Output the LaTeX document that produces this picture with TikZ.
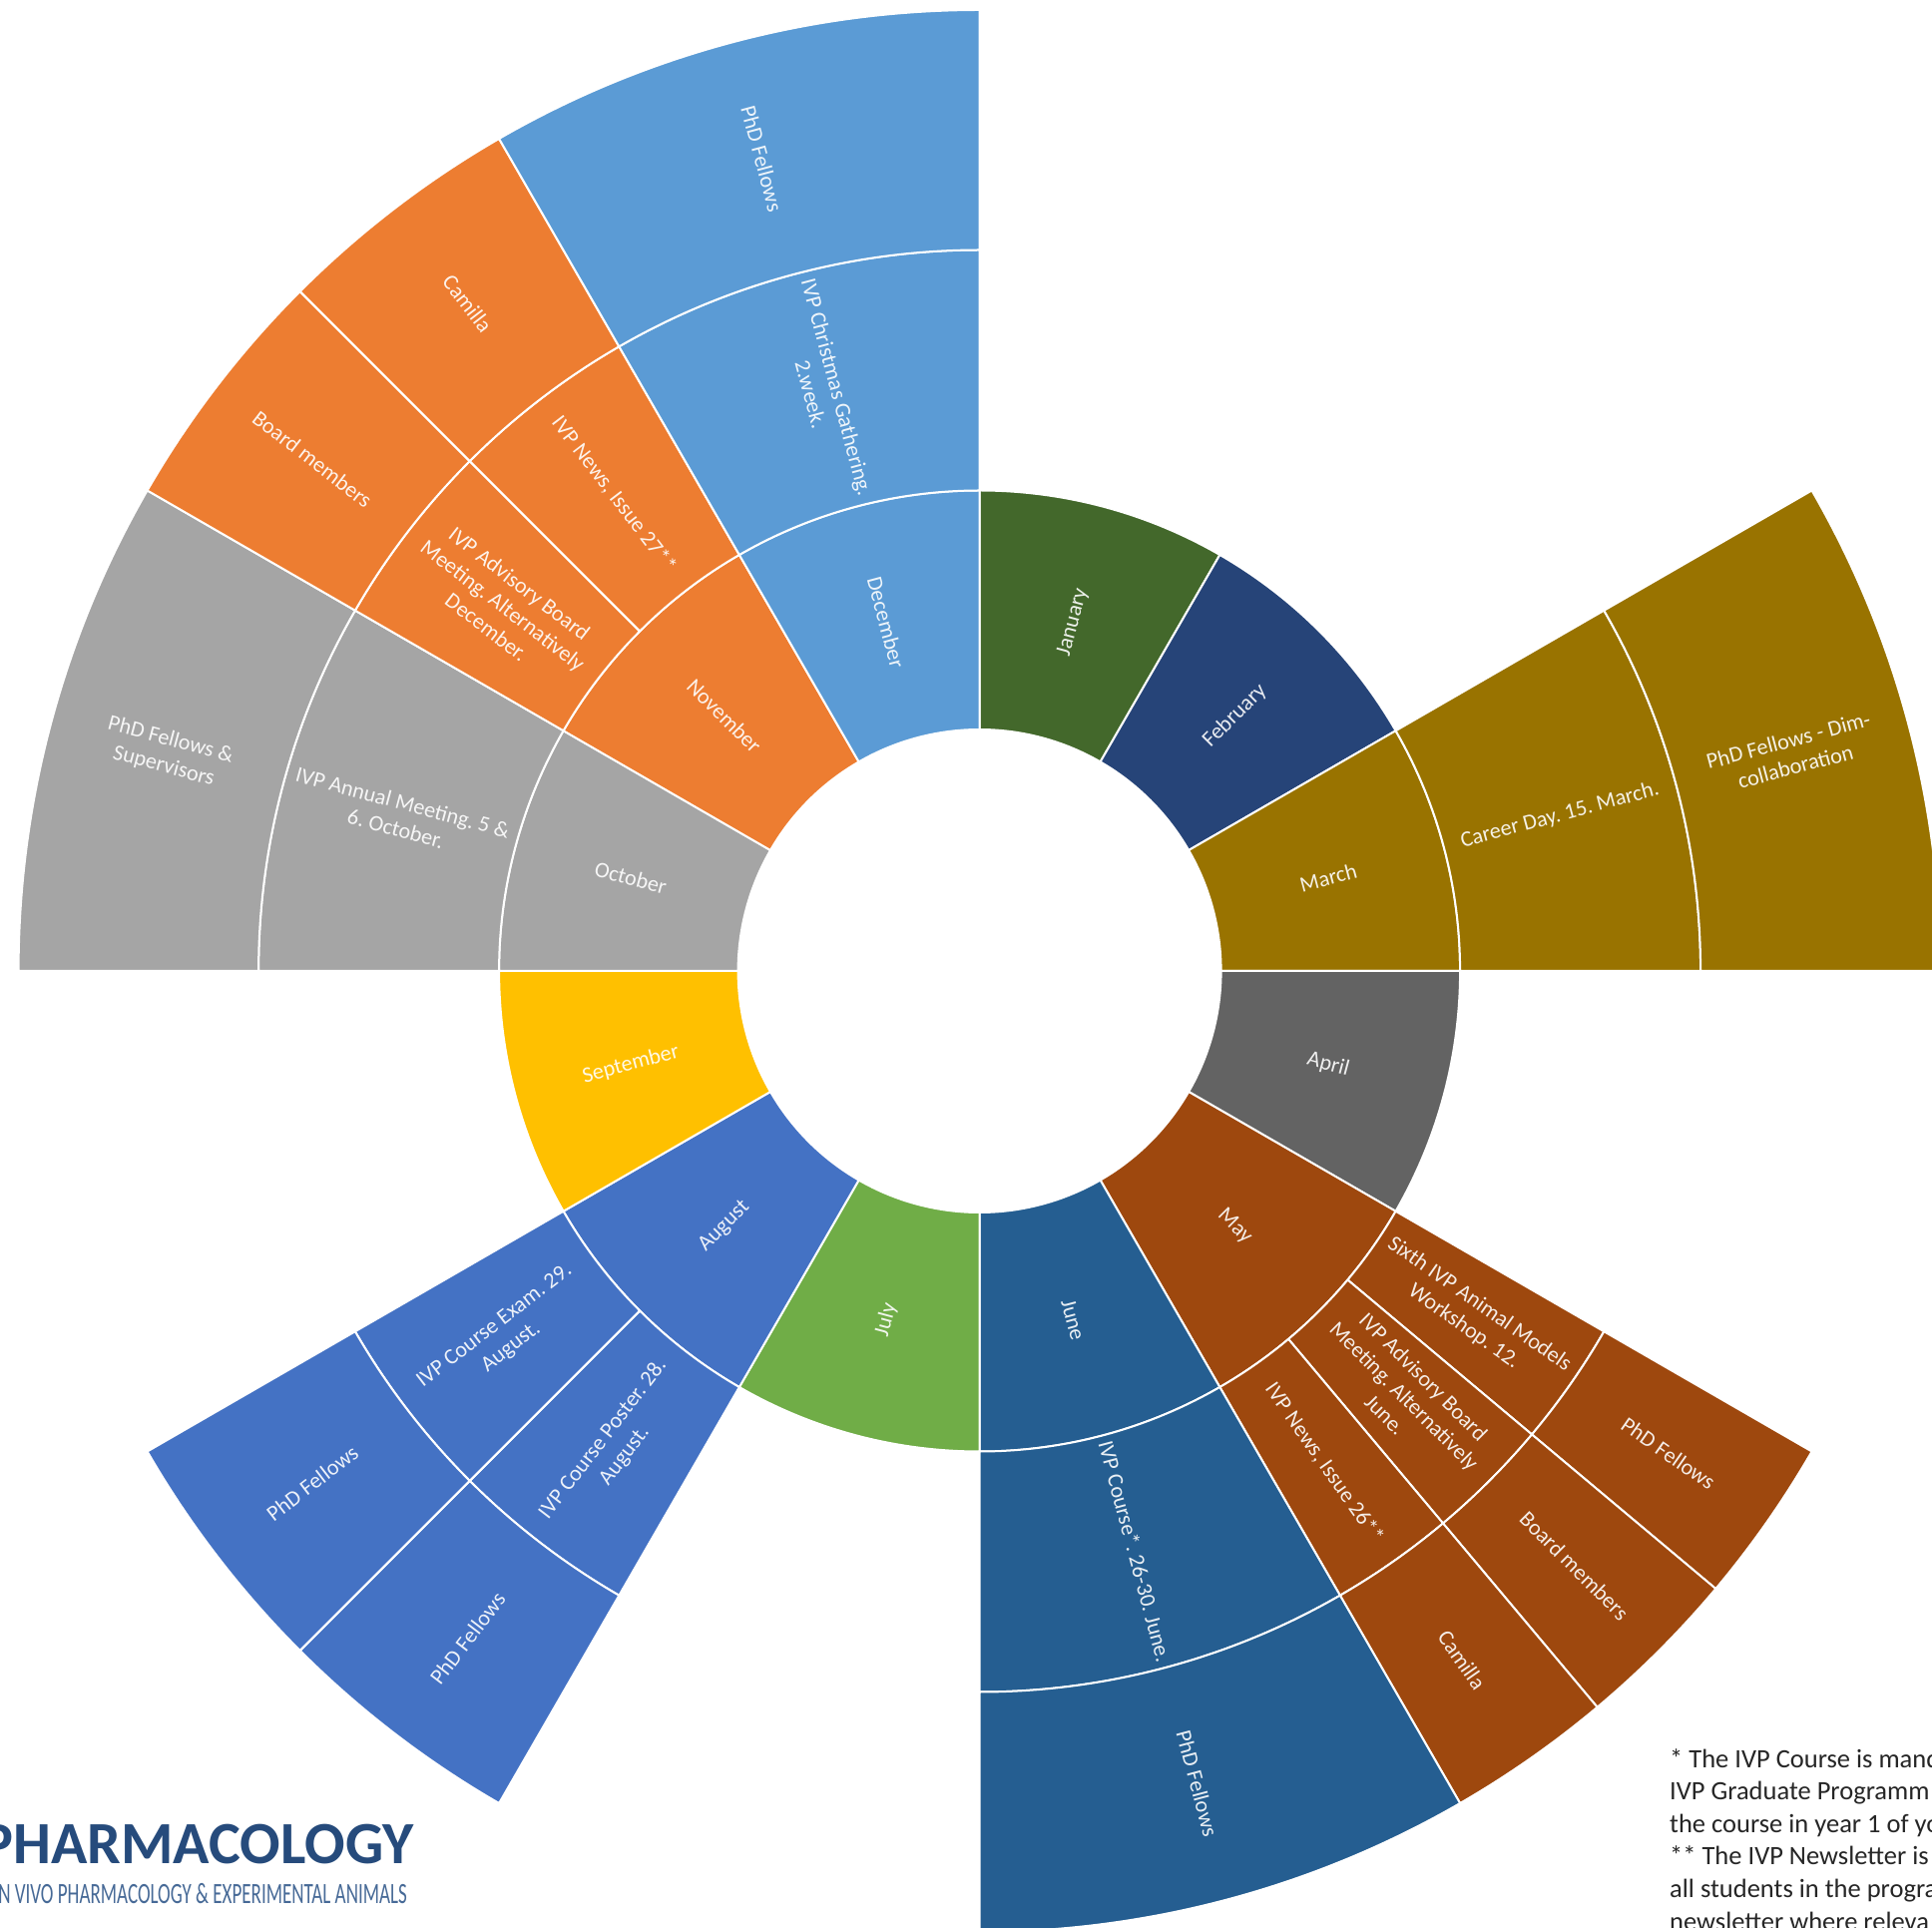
\documentclass[tikz,border=0pt]{standalone}
\usepackage{fontspec}
\setmainfont{Carlito}
\frenchspacing
\definecolor{cJan}{HTML}{43682B}
\definecolor{cFeb}{HTML}{264478}
\definecolor{cMar}{HTML}{997300}
\definecolor{cApr}{HTML}{636363}
\definecolor{cMay}{HTML}{9E480E}
\definecolor{cJun}{HTML}{255E91}
\definecolor{cJul}{HTML}{70AD47}
\definecolor{cAug}{HTML}{4472C4}
\definecolor{cSep}{HTML}{FFC000}
\definecolor{cOct}{HTML}{A5A5A5}
\definecolor{cNov}{HTML}{ED7D31}
\definecolor{cDec}{HTML}{5B9BD5}
\definecolor{logoblue}{HTML}{264B7C}
\definecolor{logosub}{HTML}{476A97}
\definecolor{notetext}{HTML}{262626}
\newcommand{\rA}{242}
\newcommand{\rB}{481.5}
\newcommand{\rC}{722.5}
\newcommand{\rD}{963}
\newcommand{\rAB}{361.75}
\newcommand{\rBC}{602}
\newcommand{\rCD}{842.75}
% colour, from-angle, to-angle (clockwise from the top), inner and outer radius
\newcommand{\sector}[5]{%
  \pgfmathsetmacro{\angA}{90-#2}%
  \pgfmathsetmacro{\angB}{90-#3}%
  \draw[segment,fill=#1] (\angA:#4 pt) arc[start angle=\angA,end angle=\angB,radius=#4 pt]
    -- (\angB:#5 pt) arc[start angle=\angB,end angle=\angA,radius=#5 pt] -- cycle;}
% node name, angle (clockwise from the top), radius, text
\newcommand{\seglabel}[4]{%
  \pgfmathsetmacro{\angC}{90-#2}%
  \pgfmathsetmacro{\rotC}{#2<180 ? 90-#2 : 270-#2}%
  \node[seglab,rotate=\rotC] (#1) at (\angC:#3 pt) {#4};}
\tikzset{
  segment/.style={draw=white,line width=2pt,line join=round},
  seglab/.style={text=white,text opacity=0.9,align=center,inner sep=0pt,font=\fontsize{22.2}{27.2}\selectfont},
  notelab/.style={text=notetext,align=left,inner sep=0pt,font=\fontsize{26.5}{32.6}\selectfont},
}
\begin{document}
\begin{tikzpicture}[x=1pt,y=1pt]
\clip (-981.6,-959) rectangle (954.4,973);
\useasboundingbox (-981.6,-959) rectangle (954.4,973);
\fill[white] (-981.6,-959) rectangle (954.4,973);
% inner ring
\sector{cJan}{0}{30}{\rA}{\rB}
\sector{cFeb}{30}{60}{\rA}{\rB}
\sector{cMar}{60}{90}{\rA}{\rB}
\sector{cApr}{90}{120}{\rA}{\rB}
\sector{cMay}{120}{150}{\rA}{\rB}
\sector{cJun}{150}{180}{\rA}{\rB}
\sector{cJul}{180}{210}{\rA}{\rB}
\sector{cAug}{210}{240}{\rA}{\rB}
\sector{cSep}{240}{270}{\rA}{\rB}
\sector{cOct}{270}{300}{\rA}{\rB}
\sector{cNov}{300}{330}{\rA}{\rB}
\sector{cDec}{330}{360}{\rA}{\rB}
% middle ring
\sector{cMar}{60}{90}{\rB}{\rC}
\sector{cMay}{120}{130}{\rB}{\rC}
\sector{cMay}{130}{140}{\rB}{\rC}
\sector{cMay}{140}{150}{\rB}{\rC}
\sector{cJun}{150}{180}{\rB}{\rC}
\sector{cAug}{210}{225}{\rB}{\rC}
\sector{cAug}{225}{240}{\rB}{\rC}
\sector{cOct}{270}{300}{\rB}{\rC}
\sector{cNov}{300}{315}{\rB}{\rC}
\sector{cNov}{315}{330}{\rB}{\rC}
\sector{cDec}{330}{360}{\rB}{\rC}
% outer ring
\sector{cMar}{60}{90}{\rC}{\rD}
\sector{cMay}{120}{130}{\rC}{\rD}
\sector{cMay}{130}{140}{\rC}{\rD}
\sector{cMay}{140}{150}{\rC}{\rD}
\sector{cJun}{150}{180}{\rC}{\rD}
\sector{cAug}{210}{225}{\rC}{\rD}
\sector{cAug}{225}{240}{\rC}{\rD}
\sector{cOct}{270}{300}{\rC}{\rD}
\sector{cNov}{300}{315}{\rC}{\rD}
\sector{cNov}{315}{330}{\rC}{\rD}
\sector{cDec}{330}{360}{\rC}{\rD}
% month labels
\seglabel{jan}{15}{\rAB}{January}
\seglabel{feb}{45}{\rAB}{February}
\seglabel{mar}{75}{\rAB}{March}
\seglabel{apr}{105}{\rAB}{April}
\seglabel{may}{135}{\rAB}{May}
\seglabel{jun}{165}{\rAB}{June}
\seglabel{jul}{195}{\rAB}{July}
\seglabel{aug}{225}{\rAB}{August}
\seglabel{sep}{255}{\rAB}{September}
\seglabel{oct}{285}{\rAB}{October}
\seglabel{nov}{315}{\rAB}{November}
\seglabel{dec}{345}{\rAB}{December}
% event labels
\seglabel{marB}{75}{\rBC}{Career Day. 15. March.}
\seglabel{mayBa}{125}{\rBC}{Sixth IVP Animal Models\\Workshop. 12.}
\seglabel{mayBb}{135}{\rBC}{IVP Advisory Board\\Meeting. Alternatively\\June.}
\seglabel{mayBc}{145}{\rBC}{IVP News, Issue 26**}
\seglabel{junB}{165}{\rBC}{IVP Course*. 26-30. June.}
\seglabel{augBa}{217.5}{\rBC}{IVP Course Poster. 28.\\August.}
\seglabel{augBb}{232.5}{\rBC}{IVP Course Exam. 29.\\August.}
\seglabel{octB}{285}{\rBC}{IVP Annual Meeting. 5 \&\\6. October.}
\seglabel{novBa}{307.5}{\rBC}{IVP Advisory Board\\Meeting. Alternatively\\December.}
\seglabel{novBb}{322.5}{\rBC}{IVP News, Issue 27**}
\seglabel{decB}{345}{\rBC}{IVP Christmas Gathering.\\2.week.}
% people labels
\seglabel{marC}{75}{\rCD}{PhD Fellows - Dim-\\collaboration}
\seglabel{mayCa}{125}{\rCD}{PhD Fellows}
\seglabel{mayCb}{135}{\rCD}{Board members}
\seglabel{mayCc}{145}{\rCD}{Camilla}
\seglabel{junC}{165}{\rCD}{PhD Fellows}
\seglabel{augCa}{217.5}{\rCD}{PhD Fellows}
\seglabel{augCb}{232.5}{\rCD}{PhD Fellows}
\seglabel{octC}{285}{\rCD}{PhD Fellows \&\\Supervisors}
\seglabel{novCa}{307.5}{\rCD}{Board members}
\seglabel{novCb}{322.5}{\rCD}{Camilla}
\seglabel{decC}{345}{\rCD}{PhD Fellows}
% logo
\node[inner sep=0pt,anchor=base east,text=logoblue,font=\fontsize{60}{66}\selectfont\bfseries] (logo) at (-566.6,-894) {PHARMACOLOGY};
\node[inner sep=0pt,anchor=base east,text=logosub,xscale=0.645,font=\fontsize{29.5}{32}\selectfont] (logosub) at (-573.6,-934) {IN VIVO PHARMACOLOGY \& EXPERIMENTAL ANIMALS};
% footnotes
\node[notelab,anchor=north west] (notes) at (691.4,-779) {* The IVP Course is mand\\IVP Graduate Programm\\the course in year 1 of yo\\** The IVP Newsletter is\\all students in the progra\\newsletter where releva};
\end{tikzpicture}
\end{document}
